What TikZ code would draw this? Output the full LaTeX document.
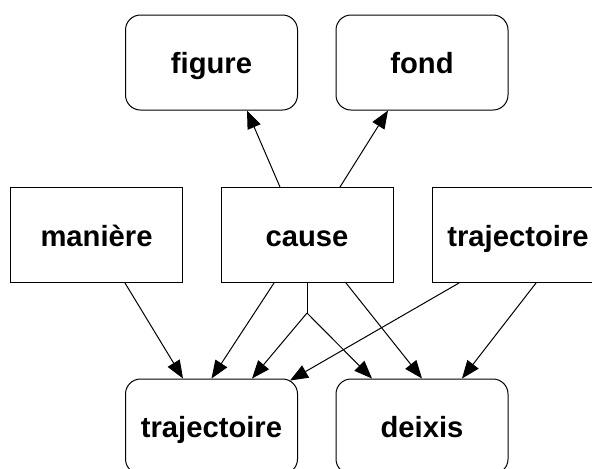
\documentclass[tikz,border=0pt]{standalone}
\usepackage{fontspec}
\setmainfont{Liberation Sans}
\usetikzlibrary{arrows.meta,calc}
\begin{document}
\begin{tikzpicture}[x=0.5pt,y=-0.5pt,line width=0.5pt,
    mybox/.style={draw,inner sep=0pt,minimum width=86pt,minimum height=47.5pt,
      text height=11pt,text depth=0pt,font=\fontsize{14.6}{17}\selectfont\bfseries},
    myround/.style={mybox,rounded corners=7.5pt},
    myarrow/.style={-{Triangle[length=9pt,width=7pt]}}]
    \useasboundingbox (0,0) rectangle (592,468);
    \node[myround] (figure) at (211.5,62.5) {figure};
    \node[myround] (fond) at (422,62.5) {fond};
    \node[mybox] (maniere) at (96.5,235) {manière};
    \node[mybox] (cause) at (307,235) {cause};
    \node[mybox] (trajH) at (518,235) {trajectoire};
    \node[myround] (trajB) at (211.5,426.5) {trajectoire};
    \node[myround] (deixis) at (422,426.5) {deixis};
    \coordinate (fork) at ($(cause.south)+(0,30)$);
    \draw[myarrow] ($(cause.north)+(-27,0)$) -- ($(figure.south)+(35.5,0)$);
    \draw[myarrow] ($(cause.north)+(33,0)$) -- ($(fond.south)+(-34,0)$);
    \draw[myarrow] ($(maniere.south)+(28.5,0)$) -- ($(trajB.north)+(-28.5,0)$);
    \draw[myarrow] ($(cause.south)+(-33,0)$) -- (trajB.north);
    \draw (cause.south) -- (fork);
    \draw[myarrow] (fork) -- ($(trajB.north)+(40.5,0)$);
    \draw[myarrow] (fork) -- ($(deixis.north)+(-50,0)$);
    \draw[myarrow] ($(cause.south)+(39,0)$) -- (deixis.north);
    \draw[myarrow] ($(trajH.south)+(-59,0)$) -- ($(trajB.north)+(78.5,2)$);
    \draw[myarrow] ($(trajH.south)+(18,0)$) -- ($(deixis.north)+(40,0)$);
  \end{tikzpicture}
\end{document}
